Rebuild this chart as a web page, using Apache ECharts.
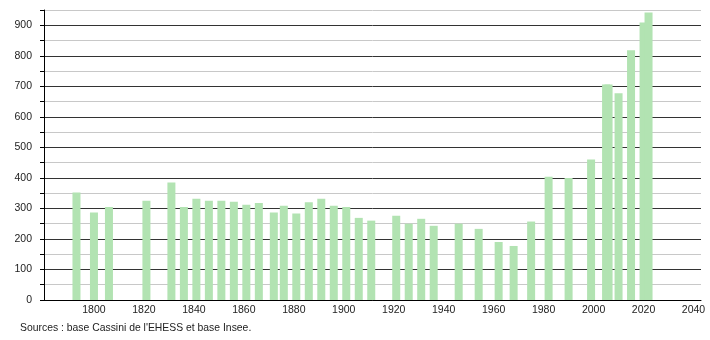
<!DOCTYPE html>
<html>
<head>
<meta charset="utf-8">
<script src="https://cdn.jsdelivr.net/npm/echarts@6/dist/echarts.min.js"></script>
<style>
html,body{margin:0;padding:0;background:#fff;}
#chart{width:710px;height:340px;}
</style>
</head>
<body>
<div id="chart"></div>
<script>
var years = [1793,1800,1806,1821,1831,1836,1841,1846,1851,1856,1861,1866,1872,1876,1881,1886,1891,1896,1901,1906,1911,1921,1926,1931,1936,1946,1954,1962,1968,1975,1982,1990,1999,2005,2006,2010,2015,2020,2022];
var population = [352,287,305,325,385,305,332,325,325,322,312,318,287,309,283,320,332,309,305,269,260,276,250,266,243,250,233,190,177,257,404,400,460,706,706,677,818,909,942];
var sourceText = "Sources : base Cassini de l'EHESS et base Insee.";

var chart = echarts.init(document.getElementById('chart'), null, {renderer: 'canvas'});
var data = years.map(function (y, i) { return [y, population[i]]; });

chart.setOption({
  animation: false,
  backgroundColor: '#ffffff',
  textStyle: {fontFamily: 'Liberation Sans, Arial, sans-serif'},
  grid: {left: 44, right: 9, top: 10, bottom: 40, containLabel: false},
  xAxis: {
    type: 'value',
    min: 1780,
    max: 2043,
    interval: 20,
    axisLine: {show: true, lineStyle: {color: '#000', width: 1}},
    axisTick: {show: false},
    splitLine: {show: false},
    axisLabel: {
      color: '#222',
      fontSize: 10.5,
      margin: 5,
      fontFamily: 'Liberation Sans, Arial, sans-serif',
      formatter: function (v) { return (v % 20 === 0 && v !== 1780) ? String(v) : ''; }
    }
  },
  yAxis: {
    type: 'value',
    min: 0,
    max: 950,
    interval: 50,
    axisLine: {show: true, lineStyle: {color: '#000', width: 1}},
    axisTick: {show: true, length: 4, lineStyle: {color: '#000'}},
    axisLabel: {
      color: '#222',
      fontSize: 10.5,
      margin: 12,
      fontFamily: 'Liberation Sans, Arial, sans-serif',
      formatter: function (v) { return v % 100 === 0 ? String(v) : ''; }
    },
    splitLine: {show: true, lineStyle: {color: ['#333333', '#c8c8c8'], width: 1}}
  },
  series: [{
    type: 'bar',
    data: data,
    barWidth: 8,
    itemStyle: {color: '#b2e3b2'},
    z: 3
  }],
  graphic: [{
    type: 'text',
    left: 20,
    top: 323,
    style: {text: sourceText, fill: '#222', font: '10.4px "Liberation Sans", Arial, sans-serif'}
  }]
});
</script>
</body>
</html>
